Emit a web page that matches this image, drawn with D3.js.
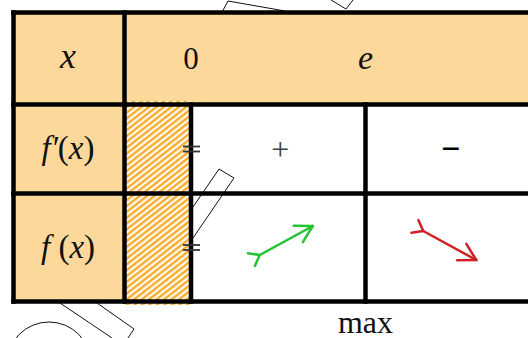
<!DOCTYPE html>
<html>
<head>
<meta charset="utf-8">
<script src="https://cdn.jsdelivr.net/npm/d3@7"></script>
<style>
  body { margin: 0; background: #fff; }
  svg { display: block; }
  text { font-family: "Liberation Serif", "Times New Roman", serif; fill: #111; }
</style>
</head>
<body>
<div id="chart"></div>
<script>
// Variation table data
const xValues = ['0', 'e'];
const rowLabels = ['x', 'f′(x)', 'f(x)'];
const derivSigns = ['+', '−'];
const variations = ['up', 'down'];
const forbiddenAt = ['0'];
const extremaAt = ['e'];
const extremaText = ['max'];

// Background decoration outlines (slide art behind the table)
const decor = [
  [[221, 14], [228, 1], [285, 11]],
  [[331, 0], [346, 9], [353, 0]],
  [[193, 207], [219, 169], [234, 178], [193, 238]],
  [[60, 303], [112, 338]],
  [[97, 303], [134, 329], [128, 338]]
];

const width = 528, height = 338;
const margin = { top: 12.5, left: 13.5 };
const labelCol = 124.5;
const rowEdges = [12.5, 104.5, 193.5, 301.5];
const orange = '#fcd99b';

const svg = d3.select('#chart').append('svg')
  .attr('width', width)
  .attr('height', height);

// x positions of the values
const xPos = d3.scalePoint()
  .domain([...xValues, 'end'])
  .range([191, 540]);
const intervals = d3.pairs(xPos.domain());
const mid = ([a, b]) => (xPos(a) + xPos(b)) / 2;

// hatch pattern
const defs = svg.append('defs');
const pat = defs.append('pattern')
  .attr('id', 'hatch')
  .attr('width', 4.6).attr('height', 6)
  .attr('patternUnits', 'userSpaceOnUse')
  .attr('patternTransform', 'rotate(52)');
pat.append('rect').attr('width', 4.6).attr('height', 6).attr('fill', '#fffaf0');
pat.append('rect').attr('width', 2.3).attr('height', 6).attr('fill', '#f7ab2a');

// decorations
svg.append('g')
  .selectAll('path')
  .data(decor)
  .join('path')
  .attr('d', d3.line())
  .attr('fill', 'none')
  .attr('stroke', '#111')
  .attr('stroke-width', 1);
svg.append('circle')
  .attr('cx', 49).attr('cy', 364).attr('r', 42)
  .attr('fill', 'none').attr('stroke', '#111').attr('stroke-width', 1);

// fills
svg.append('rect')
  .attr('x', margin.left).attr('y', rowEdges[0])
  .attr('width', width - margin.left).attr('height', rowEdges[1] - rowEdges[0])
  .attr('fill', orange);
svg.append('rect')
  .attr('x', margin.left).attr('y', rowEdges[1])
  .attr('width', labelCol - margin.left).attr('height', rowEdges[3] - rowEdges[1])
  .attr('fill', orange);
svg.append('rect')
  .attr('x', labelCol).attr('y', rowEdges[1] - 3.5)
  .attr('width', xPos(forbiddenAt[0]) - labelCol).attr('height', rowEdges[3] - rowEdges[1] + 7)
  .attr('fill', 'url(#hatch)');

// grid lines
const grid = svg.append('g')
  .attr('stroke', '#000')
  .attr('stroke-width', 4.5)
  .attr('stroke-linecap', 'square');
rowEdges.forEach(y => {
  grid.append('line').attr('x1', margin.left).attr('x2', width + 5).attr('y1', y).attr('y2', y);
});
grid.append('line').attr('x1', margin.left).attr('x2', margin.left)
  .attr('y1', rowEdges[0]).attr('y2', rowEdges[3]);
grid.append('line').attr('x1', labelCol).attr('x2', labelCol)
  .attr('y1', rowEdges[0]).attr('y2', rowEdges[3]);
xValues.forEach(v => {
  grid.append('line').attr('x1', xPos(v)).attr('x2', xPos(v))
    .attr('y1', rowEdges[1]).attr('y2', rowEdges[3]);
});

// row labels
const rowMid = i => (rowEdges[i] + rowEdges[i + 1]) / 2;
const labelX = (margin.left + labelCol) / 2;

svg.append('text')
  .attr('x', labelX - 1).attr('y', rowMid(0) + 9)
  .attr('text-anchor', 'middle')
  .style('font-size', '36px').style('font-style', 'italic')
  .text(rowLabels[0]);

[1, 2].forEach(i => {
  const t = svg.append('text')
    .attr('x', labelX - 1).attr('y', rowMid(i) + 10)
    .attr('text-anchor', 'middle')
    .style('font-size', '33px');
  const m = rowLabels[i].match(/^(f′?)\((x)\)$/);
  t.append('tspan').style('font-style', 'italic').text(m[1] + (i === 2 ? ' ' : ''));
  t.append('tspan').text('(');
  t.append('tspan').style('font-style', 'italic').text(m[2]);
  t.append('tspan').text(')');
});

// x values
svg.selectAll('.xval')
  .data(xValues)
  .join('text')
  .attr('class', 'xval')
  .attr('x', d => xPos(d))
  .attr('y', rowMid(0) + 10)
  .attr('text-anchor', 'middle')
  .style('font-size', d => isNaN(+d) ? '34px' : '31px')
  .style('font-style', d => isNaN(+d) ? 'italic' : 'normal')
  .text(d => d);

// derivative signs
svg.selectAll('.sign')
  .data(intervals)
  .join('text')
  .attr('class', 'sign')
  .attr('x', (d, i) => mid(d) + (derivSigns[i] === '+' ? 2 : -2))
  .attr('y', rowMid(1) + 11)
  .attr('text-anchor', 'middle')
  .style('font-size', (d, i) => derivSigns[i] === '+' ? '32px' : '34px')
  .style('font-weight', (d, i) => derivSigns[i] === '+' ? 'normal' : 'bold')
  .style('fill', (d, i) => derivSigns[i] === '+' ? '#444' : '#000')
  .text((d, i) => derivSigns[i]);

// double bars at forbidden value
[1, 2].forEach(i => {
  forbiddenAt.forEach(v => {
    [-2.5, 2.5].forEach(dy => {
      svg.append('line')
        .attr('x1', xPos(v) - 8).attr('x2', xPos(v) + 9)
        .attr('y1', rowMid(i) + dy).attr('y2', rowMid(i) + dy)
        .attr('stroke', '#333').attr('stroke-width', 1.8);
    });
  });
});

// variation arrows
const arrow = (g, dir) => {
  const s = dir === 'up' ? -1 : 1;
  const tail = [-26.5, -14.5 * s], head = [26.5, 14.5 * s];
  g.append('line')
    .attr('x1', tail[0]).attr('y1', tail[1]).attr('x2', head[0]).attr('y2', head[1]);
  const ang = Math.atan2(head[1] - tail[1], head[0] - tail[0]);
  // open head
  const hl = 19, ha = 0.52;
  [ang + Math.PI - ha, ang + Math.PI + ha].forEach(a => {
    g.append('line')
      .attr('x1', head[0]).attr('y1', head[1])
      .attr('x2', head[0] + hl * Math.cos(a)).attr('y2', head[1] + hl * Math.sin(a));
  });
  // fletched tail
  const fl = 12, fa = 0.65;
  [ang + Math.PI - fa, ang + Math.PI + fa].forEach(a => {
    g.append('line')
      .attr('x1', tail[0]).attr('y1', tail[1])
      .attr('x2', tail[0] + fl * Math.cos(a)).attr('y2', tail[1] + fl * Math.sin(a));
  });
};

intervals.forEach((d, i) => {
  const dir = variations[i];
  const color = dir === 'up' ? '#22c431' : '#d02127';
  const g = svg.append('g')
    .attr('transform', `translate(${mid(d) + (dir === 'up' ? 8 : -3)},${rowMid(2) + (dir === 'up' ? -7 : -2)})`)
    .attr('stroke', color)
    .attr('stroke-width', 2.5)
    .attr('stroke-linecap', 'round');
  arrow(g, dir);
});

// extrema labels
svg.selectAll('.ext')
  .data(extremaAt)
  .join('text')
  .attr('class', 'ext')
  .attr('x', d => xPos(d))
  .attr('y', rowEdges[3] + 31)
  .attr('text-anchor', 'middle')
  .style('font-size', '32px')
  .text((d, i) => extremaText[i]);
</script>
</body>
</html>
